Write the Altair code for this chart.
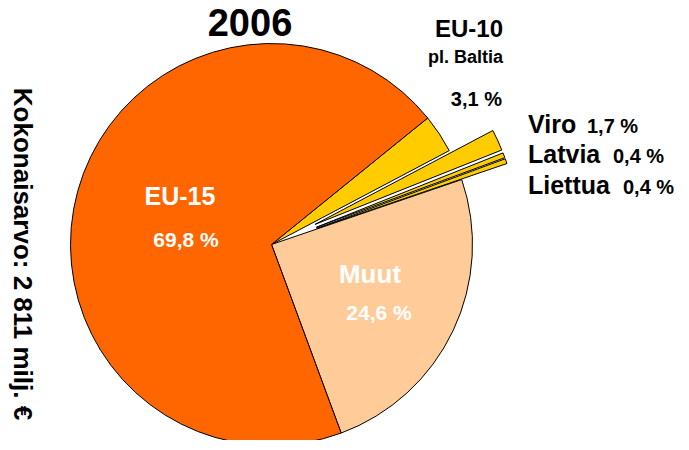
import math
import altair as alt
import pandas as pd

# ---- data ----
CATEGORIES = ["EU-10 pl. Baltia", "Viro", "Latvia", "Liettua", "Muut", "EU-15"]
SHARES = [3.1, 1.7, 0.4, 0.4, 24.6, 69.8]
EXPLODED = ["Viro", "Latvia", "Liettua"]
YEAR = "2006"
TOTAL_LABEL = "Kokonaisarvo: 2 811 milj. €"

# ---- styles / layout ----
COLORS = ["#FFCC00", "#FFCC00", "#FFCC00", "#FFCC00", "#FFCC99", "#FF6600"]
FONT = "Liberation Sans"
CX, CY, R = 263.5, 236.5, 201
EXPLODE_OFF = 48
START_DEG = 51.0
T0 = math.radians(START_DEG)


def pct(v):
    return f"{v:.1f}".replace(".", ",") + " %"


pie_df = pd.DataFrame({
    "cat": CATEGORIES,
    "share": SHARES,
    "k": list(range(len(CATEGORIES))),
    "explode": [c in EXPLODED for c in CATEGORIES],
})

pie = (
    alt.Chart(pie_df)
    .transform_window(cum="sum(share)", sort=[alt.SortField("k")], frame=[None, 0])
    .transform_calculate(start="datum.cum - datum.share")
    .transform_calculate(mid=f"(datum.start + datum.share/2)/100*2*PI + {T0}")
    .transform_calculate(off=f"datum.explode ? {EXPLODE_OFF} : 0")
    .transform_calculate(px=f"{CX} + datum.off*sin(datum.mid)",
                         py=f"{CY} - datum.off*cos(datum.mid)")
    .mark_arc(radius=R, stroke="black", strokeWidth=1)
    .encode(
        theta=alt.Theta("start:Q", stack=None,
                        scale=alt.Scale(domain=[0, 100], range=[T0, T0 + 2 * math.pi])),
        theta2="cum:Q",
        x=alt.X("px:Q", scale=None),
        y=alt.Y("py:Q", scale=None),
        color=alt.Color("cat:N", scale=alt.Scale(domain=CATEGORIES, range=COLORS), legend=None),
    )
)

share_of = dict(zip(CATEGORIES, SHARES))

# text labels: (text, x, y, size, color, align)
center_txt = pd.DataFrame([
    (YEAR, 242, 28, 38, "black"),
    ("EU-15", 172, 197, 25, "white"),
    (pct(share_of["EU-15"]), 178, 239, 21, "white"),
    ("Muut", 362, 275, 26, "white"),
    (pct(share_of["Muut"]), 371, 312, 21, "white"),
], columns=["t", "x", "y", "s", "c"])

right_txt = pd.DataFrame([
    ("EU-10", 495, 29, 24, "black"),
    ("pl. Baltia", 495, 55, 18, "black"),
    (pct(share_of["EU-10 pl. Baltia"]), 494, 98, 20, "black"),
], columns=["t", "x", "y", "s", "c"])

left_txt = pd.DataFrame([
    ("Viro", 520, 125, 25, "black"),
    ("Latvia", 520, 155, 25, "black"),
    ("Liettua", 520, 186, 25, "black"),
    (pct(share_of["Viro"]), 579, 125, 20, "black"),
    (pct(share_of["Latvia"]), 605, 155, 20, "black"),
    (pct(share_of["Liettua"]), 615, 186, 20, "black"),
], columns=["t", "x", "y", "s", "c"])


def text_layer(df, align):
    return alt.Chart(df).mark_text(
        align=align, baseline="alphabetic", font=FONT, fontWeight="bold"
    ).encode(
        x=alt.X("x:Q", scale=None),
        y=alt.Y("y:Q", scale=None),
        text="t:N",
        size=alt.Size("s:Q", scale=None, legend=None),
        color=alt.Color("c:N", scale=None, legend=None),
    )


vert = alt.Chart(pd.DataFrame({"t": [TOTAL_LABEL]})).mark_text(
    align="center", baseline="middle", angle=90, font=FONT, fontWeight="bold",
    fontSize=26, color="black"
).encode(x=alt.value(14), y=alt.value(246), text="t:N")

chart = alt.layer(
    pie,
    text_layer(center_txt, "center"),
    text_layer(right_txt, "right"),
    text_layer(left_txt, "left"),
    vert,
).properties(
    width=673, height=432, padding=0,
    autosize=alt.AutoSizeParams(type="none"),
).configure_view(strokeWidth=0).resolve_scale(
    x="independent", y="independent", color="independent", size="independent"
)

chart.save("out.html", embed_options={"renderer": "svg", "actions": False})
